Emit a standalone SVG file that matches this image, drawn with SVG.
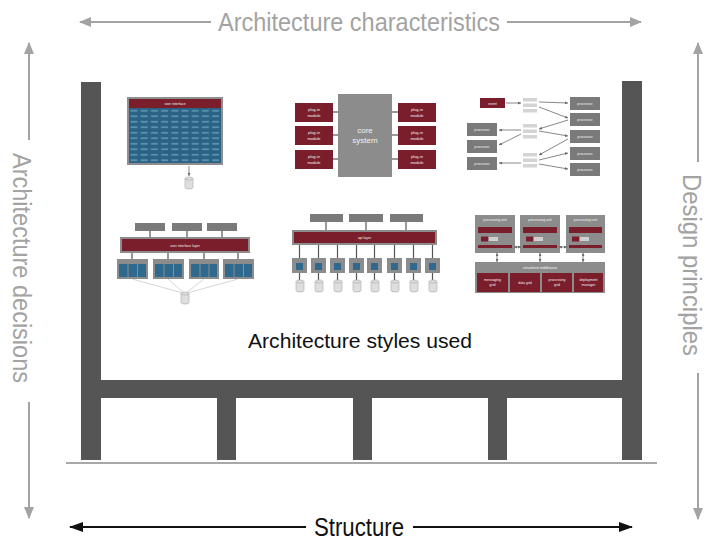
<svg xmlns="http://www.w3.org/2000/svg" width="707" height="544" viewBox="0 0 707 544">
<style>
  .axis{font-family:"Liberation Sans",Arial,sans-serif;fill:#a3a3a3;font-size:25px}
  .axl{stroke:#a3a3a3;stroke-width:2;fill:none}
  .blk{stroke:#111;stroke-width:2;fill:none}
  .pillar{fill:#555}
  .m{fill:#7a1e2c}
  .g{fill:#8c8c8c}
  .dg{fill:#7a7a7a}
  .t{font-family:"Liberation Sans",Arial,sans-serif;fill:#f2f2f2;text-anchor:middle}
  .st{stroke:#555;stroke-width:1.2}
  .thin{stroke:#6a6a6a;stroke-width:0.8;fill:none}
  .fan{stroke:#c4c4c4;stroke-width:0.7;fill:none}
  .chan{fill:#d4d4d4}
</style>
<defs>
  <marker id="ahg" viewBox="0 0 12 10" refX="11" refY="5" markerUnits="userSpaceOnUse" markerWidth="12" markerHeight="10" orient="auto-start-reverse">
    <path d="M0,0 L12,5 L0,10 z" fill="#a3a3a3"/>
  </marker>
  <marker id="ahk" viewBox="0 0 14 10" refX="13" refY="5" markerUnits="userSpaceOnUse" markerWidth="14" markerHeight="10" orient="auto-start-reverse">
    <path d="M0,0 L14,5 L0,10 z" fill="#111"/>
  </marker>
  <marker id="tiny" viewBox="0 0 4 4" refX="4" refY="2" markerUnits="userSpaceOnUse" markerWidth="3" markerHeight="3" orient="auto-start-reverse">
    <path d="M0,0 L4,2 L0,4 z" fill="#6a6a6a"/>
  </marker>
  <pattern id="cells" x="129" y="108" width="10.2" height="5.5" patternUnits="userSpaceOnUse">
    <rect width="10.2" height="5.5" fill="#2c6283"/>
    <rect x="1.5" y="2" width="7" height="1.5" fill="#5f9cba"/>
  </pattern>
  <g id="db">
    <path d="M0,1.5 a4,1.5 0 0,1 8,0 v9 a4,1.5 0 0,1 -8,0 z" fill="#dedede" stroke="#a8a8a8" stroke-width="0.6"/>
    <path d="M0,1.5 a4,1.5 0 0,0 8,0" fill="none" stroke="#a8a8a8" stroke-width="0.6"/>
  </g>
</defs>

<!-- axes around the building -->
<g id="axis-characteristics">
  <path class="axl" d="M80,22 H211" marker-start="url(#ahg)"/>
  <path class="axl" d="M507,22 H641" marker-end="url(#ahg)"/>
  <text class="axis" x="359" y="31" text-anchor="middle" textLength="282" lengthAdjust="spacingAndGlyphs">Architecture characteristics</text>
</g>
<g id="axis-decisions">
  <path class="axl" d="M29,43 V140" marker-start="url(#ahg)"/>
  <path class="axl" d="M29,402 V518" marker-end="url(#ahg)"/>
  <text class="axis" transform="translate(22,268) rotate(90)" text-anchor="middle" dominant-baseline="central" textLength="230" lengthAdjust="spacingAndGlyphs">Architecture decisions</text>
</g>
<g id="axis-principles">
  <path class="axl" d="M698,43 V162" marker-start="url(#ahg)"/>
  <path class="axl" d="M698,373 V519" marker-end="url(#ahg)"/>
  <text class="axis" transform="translate(692,265) rotate(90)" text-anchor="middle" dominant-baseline="central" textLength="182" lengthAdjust="spacingAndGlyphs">Design principles</text>
</g>
<g id="axis-structure">
  <path class="blk" d="M70,527 H306" marker-start="url(#ahk)"/>
  <path class="blk" d="M413,527 H632" marker-end="url(#ahk)"/>
  <text x="359" y="536" text-anchor="middle" font-family="Liberation Sans, Arial, sans-serif" font-size="25" fill="#111" textLength="90" lengthAdjust="spacingAndGlyphs">Structure</text>
</g>

<!-- building frame -->
<g id="frame">
  <rect class="pillar" x="81" y="82" width="20" height="378"/>
  <rect class="pillar" x="622" y="81" width="20" height="379"/>
  <rect class="pillar" x="81" y="380" width="561" height="18"/>
  <rect class="pillar" x="217" y="398" width="19" height="62"/>
  <rect class="pillar" x="353" y="398" width="19" height="62"/>
  <rect class="pillar" x="488" y="398" width="19" height="62"/>
  <line x1="66" y1="463" x2="657" y2="463" stroke="#a8a8a8" stroke-width="2"/>
</g>

<text id="styles-label" x="360" y="348" text-anchor="middle" font-family="Liberation Sans, Arial, sans-serif" font-size="21" fill="#111" textLength="224" lengthAdjust="spacingAndGlyphs">Architecture styles used</text>

<!-- monolithic application with a single database -->
<g id="monolith">
  <rect x="127" y="97" width="96" height="68" fill="#8f8f8f"/>
  <rect class="m" x="129" y="99" width="92" height="9"/>
  <text class="t" x="175" y="105" font-size="3.5">user interface</text>
  <rect x="129" y="108" width="92" height="55" fill="url(#cells)"/>
  <line class="thin" x1="189" y1="166" x2="189" y2="176" stroke="#444" marker-end="url(#tiny)"/>
  <use href="#db" x="185" y="177"/>
</g>

<!-- microkernel -->
<g id="microkernel">
  <rect class="g" x="338" y="94" width="54" height="83"/>
  <text class="t" x="365" y="133" font-size="8" fill="#eee">core</text>
  <text class="t" x="365" y="143" font-size="8" fill="#eee">system</text>
  <g class="st">
    <line x1="333" y1="112" x2="338" y2="112"/><line x1="333" y1="135" x2="338" y2="135"/><line x1="333" y1="159" x2="338" y2="159"/>
    <line x1="392" y1="112" x2="398" y2="112"/><line x1="392" y1="135" x2="398" y2="135"/><line x1="392" y1="159" x2="398" y2="159"/>
  </g>
  <g>
    <rect class="m" x="295" y="103" width="38" height="19"/>
    <rect class="m" x="295" y="126" width="38" height="19"/>
    <rect class="m" x="295" y="150" width="38" height="19"/>
    <rect class="m" x="398" y="103" width="38" height="19"/>
    <rect class="m" x="398" y="126" width="38" height="19"/>
    <rect class="m" x="398" y="150" width="38" height="19"/>
  </g>
  <g font-size="4">
    <text class="t" x="314" y="111">plug-in</text><text class="t" x="314" y="117">module</text>
    <text class="t" x="314" y="134">plug-in</text><text class="t" x="314" y="140">module</text>
    <text class="t" x="314" y="158">plug-in</text><text class="t" x="314" y="164">module</text>
    <text class="t" x="417" y="111">plug-in</text><text class="t" x="417" y="117">module</text>
    <text class="t" x="417" y="134">plug-in</text><text class="t" x="417" y="140">module</text>
    <text class="t" x="417" y="158">plug-in</text><text class="t" x="417" y="164">module</text>
  </g>
</g>

<!-- event-driven (broker) -->
<g id="event-driven">
  <rect class="m" x="480" y="98" width="25" height="10"/>
  <text class="t" x="492.5" y="104.5" font-size="3.5">event</text>
  <g class="chan">
    <rect x="523" y="98" width="14" height="3.5"/><rect x="523" y="103.5" width="14" height="3.5"/><rect x="523" y="109" width="14" height="3.5"/>
    <rect x="523" y="124" width="14" height="3.5"/><rect x="523" y="129.5" width="14" height="3.5"/><rect x="523" y="135" width="14" height="3.5"/>
    <rect x="523" y="153" width="14" height="3.5"/><rect x="523" y="158.5" width="14" height="3.5"/><rect x="523" y="164" width="14" height="3.5"/>
  </g>
  <g class="dg">
    <rect x="570" y="97" width="30" height="13"/>
    <rect x="570" y="113" width="30" height="13"/>
    <rect x="570" y="130" width="30" height="13"/>
    <rect x="570" y="147" width="30" height="13"/>
    <rect x="570" y="163" width="30" height="13"/>
    <rect x="467" y="123" width="30" height="13"/>
    <rect x="467" y="140" width="30" height="13"/>
    <rect x="467" y="157" width="30" height="13"/>
  </g>
  <g font-size="3.5">
    <text class="t" x="585" y="105">processor</text>
    <text class="t" x="585" y="121">processor</text>
    <text class="t" x="585" y="138">processor</text>
    <text class="t" x="585" y="155">processor</text>
    <text class="t" x="585" y="171">processor</text>
    <text class="t" x="482" y="131">processor</text>
    <text class="t" x="482" y="148">processor</text>
    <text class="t" x="482" y="165">processor</text>
  </g>
  <g class="thin" marker-end="url(#tiny)">
    <line x1="506" y1="103" x2="521" y2="103"/>
    <line x1="539" y1="102" x2="568" y2="103"/>
    <line x1="539" y1="107" x2="568" y2="118"/>
    <line x1="568" y1="120" x2="539" y2="129"/>
    <line x1="521" y1="130" x2="499" y2="130"/>
    <line x1="521" y1="134" x2="499" y2="145"/>
    <line x1="539" y1="131" x2="568" y2="136"/>
    <line x1="568" y1="139" x2="539" y2="155"/>
    <line x1="539" y1="160" x2="568" y2="153"/>
    <line x1="539" y1="164" x2="568" y2="169"/>
    <line x1="521" y1="163" x2="499" y2="163"/>
  </g>
</g>

<!-- service-based -->
<g id="service-based">
  <g class="dg">
    <rect x="135" y="223" width="30" height="8"/>
    <rect x="172" y="223" width="30" height="8"/>
    <rect x="207" y="223" width="30" height="8"/>
  </g>
  <g class="st" stroke-width="0.8">
    <line x1="150" y1="231" x2="150" y2="237"/><line x1="187" y1="231" x2="187" y2="237"/><line x1="222" y1="231" x2="222" y2="237"/>
    <line x1="132" y1="253" x2="132" y2="259"/><line x1="168" y1="253" x2="168" y2="259"/><line x1="204" y1="253" x2="204" y2="259"/><line x1="238" y1="253" x2="238" y2="259"/>
  </g>
  <rect class="g" x="120" y="237" width="130" height="16"/>
  <rect class="m" x="122" y="239" width="126" height="12"/>
  <text class="t" x="185" y="246.5" font-size="3.5">user interface layer</text>
  <g>
    <rect class="g" x="117" y="259" width="31" height="20"/>
    <rect class="g" x="153" y="259" width="31" height="20"/>
    <rect class="g" x="189" y="259" width="30" height="20"/>
    <rect class="g" x="223" y="259" width="31" height="20"/>
  </g>
  <g fill="#2f6a8e">
    <rect x="119" y="264" width="8.5" height="13"/><rect x="128.5" y="264" width="8.5" height="13"/><rect x="138" y="264" width="8" height="13"/>
    <rect x="155" y="264" width="8.5" height="13"/><rect x="164.5" y="264" width="8.5" height="13"/><rect x="174" y="264" width="8" height="13"/>
    <rect x="191" y="264" width="8.5" height="13"/><rect x="200.5" y="264" width="8" height="13"/><rect x="209.5" y="264" width="7.5" height="13"/>
    <rect x="225" y="264" width="8.5" height="13"/><rect x="234.5" y="264" width="8.5" height="13"/><rect x="244" y="264" width="8" height="13"/>
  </g>
  <g class="fan">
    <path d="M132,279 L183,293"/><path d="M168,279 L184,293"/><path d="M204,279 L186,293"/><path d="M238,279 L187,293"/>
  </g>
  <use href="#db" x="181" y="292"/>
</g>

<!-- microservices -->
<g id="microservices">
  <g class="dg">
    <rect x="310" y="214" width="33" height="8"/>
    <rect x="349" y="214" width="34" height="8"/>
    <rect x="390" y="214" width="33" height="8"/>
  </g>
  <g class="st" stroke-width="0.8">
    <line x1="326" y1="222" x2="326" y2="230"/><line x1="366" y1="222" x2="366" y2="230"/><line x1="406" y1="222" x2="406" y2="230"/>
    <line x1="299.5" y1="245" x2="299.5" y2="258"/><line x1="318.5" y1="245" x2="318.5" y2="258"/><line x1="337.5" y1="245" x2="337.5" y2="258"/><line x1="356.5" y1="245" x2="356.5" y2="258"/>
    <line x1="374.5" y1="245" x2="374.5" y2="258"/><line x1="394.5" y1="245" x2="394.5" y2="258"/><line x1="413.5" y1="245" x2="413.5" y2="258"/><line x1="432.5" y1="245" x2="432.5" y2="258"/>
    <line x1="299.5" y1="273" x2="299.5" y2="280"/><line x1="318.5" y1="273" x2="318.5" y2="280"/><line x1="337.5" y1="273" x2="337.5" y2="280"/><line x1="356.5" y1="273" x2="356.5" y2="280"/>
    <line x1="374.5" y1="273" x2="374.5" y2="280"/><line x1="394.5" y1="273" x2="394.5" y2="280"/><line x1="413.5" y1="273" x2="413.5" y2="280"/><line x1="432.5" y1="273" x2="432.5" y2="280"/>
  </g>
  <rect class="g" x="292" y="230" width="145" height="15"/>
  <rect class="m" x="294" y="232" width="141" height="11"/>
  <text class="t" x="364.5" y="239" font-size="3.5">api layer</text>
  <g class="g">
    <rect x="292" y="258" width="15" height="15"/><rect x="311" y="258" width="15" height="15"/>
    <rect x="330" y="258" width="15" height="15"/><rect x="349" y="258" width="15" height="15"/>
    <rect x="367" y="258" width="15" height="15"/><rect x="387" y="258" width="15" height="15"/>
    <rect x="406" y="258" width="15" height="15"/><rect x="425" y="258" width="15" height="15"/>
  </g>
  <g fill="#2f6a8e">
    <rect x="296" y="263" width="7" height="7"/><rect x="315" y="263" width="7" height="7"/>
    <rect x="334" y="263" width="7" height="7"/><rect x="353" y="263" width="7" height="7"/>
    <rect x="371" y="263" width="7" height="7"/><rect x="391" y="263" width="7" height="7"/>
    <rect x="410" y="263" width="7" height="7"/><rect x="429" y="263" width="7" height="7"/>
  </g>
  <use href="#db" x="296" y="280"/><use href="#db" x="315" y="280"/>
  <use href="#db" x="334" y="280"/><use href="#db" x="353" y="280"/>
  <use href="#db" x="371" y="280"/><use href="#db" x="391" y="280"/>
  <use href="#db" x="410" y="280"/><use href="#db" x="429" y="280"/>
</g>

<!-- space-based -->
<g id="space-based">
  <g class="g">
    <rect x="475" y="215" width="40" height="38"/>
    <rect x="520" y="215" width="40" height="38"/>
    <rect x="566" y="215" width="39" height="38"/>
  </g>
  <g font-size="3.5">
    <text class="t" x="495" y="221">processing unit</text>
    <text class="t" x="540" y="221">processing unit</text>
    <text class="t" x="585.5" y="221">processing unit</text>
  </g>
  <g class="m">
    <rect x="478" y="227" width="34" height="6"/><rect x="523" y="227" width="34" height="6"/><rect x="569" y="227" width="33" height="6"/>
    <rect x="481" y="236.5" width="7" height="5"/><rect x="526" y="236.5" width="7" height="5"/><rect x="572" y="236.5" width="7" height="5"/>
    <rect x="478" y="245" width="34" height="3"/><rect x="523" y="245" width="34" height="3"/><rect x="569" y="245" width="33" height="3"/>
  </g>
  <g fill="#cfcfcf">
    <rect x="489" y="237" width="9" height="4"/><rect x="534" y="237" width="9" height="4"/><rect x="580" y="237" width="9" height="4"/>
  </g>
  <g class="thin" stroke="#333" marker-start="url(#tiny)" marker-end="url(#tiny)">
    <line x1="514" y1="247" x2="521" y2="247"/>
    <line x1="559" y1="247" x2="567" y2="247"/>
    <line x1="497" y1="253" x2="497" y2="262"/>
    <line x1="540" y1="253" x2="540" y2="262"/>
    <line x1="583" y1="253" x2="583" y2="262"/>
  </g>
  <rect class="g" x="475" y="262" width="130" height="31"/>
  <text class="t" x="540" y="268.5" font-size="3.5">virtualized middleware</text>
  <g class="m">
    <rect x="477" y="273" width="31" height="19"/>
    <rect x="510" y="273" width="30" height="19"/>
    <rect x="542" y="273" width="30" height="19"/>
    <rect x="574" y="273" width="29" height="19"/>
  </g>
  <g font-size="3.5">
    <text class="t" x="492.5" y="281">messaging</text><text class="t" x="492.5" y="286">grid</text>
    <text class="t" x="525" y="284">data grid</text>
    <text class="t" x="557" y="281">processing</text><text class="t" x="557" y="286">grid</text>
    <text class="t" x="588.5" y="281">deployment</text><text class="t" x="588.5" y="286">manager</text>
  </g>
</g>
</svg>
